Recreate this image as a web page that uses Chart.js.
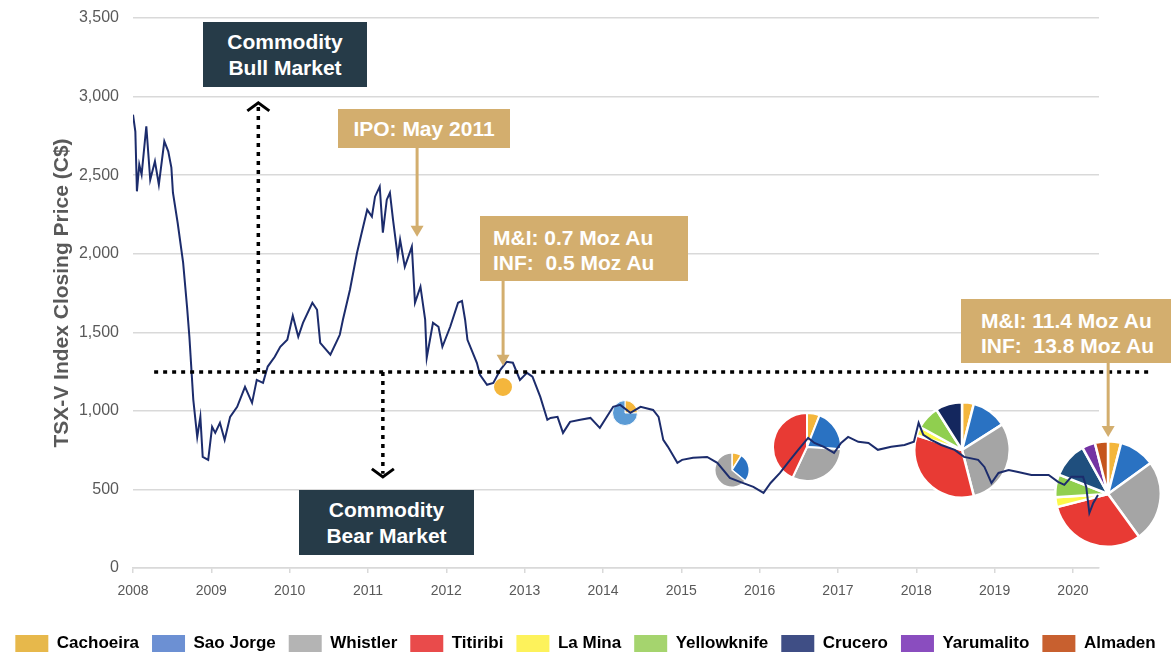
<!DOCTYPE html>
<html>
<head>
<meta charset="utf-8">
<script src="https://cdn.jsdelivr.net/npm/chart.js@4.4.1/dist/chart.umd.min.js"></script>
<style>
  html, body { margin: 0; padding: 0; background: #fff; }
  #wrap { position: relative; width: 1171px; height: 655px; overflow: hidden; font-family: 'Liberation Sans', Arial, sans-serif; }
  #main { position: absolute; left: 0; top: 0; }
  .box { position: absolute; color: #fff; font-weight: bold; font-size: 21px; line-height: 26px; box-sizing: border-box; white-space: nowrap; }
  .dark { background: #263b48; text-align: center; }
  .tan { background: #d3ae6e; line-height: 25px; }
  #pies { position: absolute; left: -5000px; top: 0; }
</style>
</head>
<body>
<div id="wrap">
  <canvas id="main" width="1171" height="655"></canvas>
  <div class="box dark" style="left:203px;top:22px;width:164px;height:65px;padding-top:7px">Commodity<br>Bull Market</div>
  <div class="box dark" style="left:299px;top:490px;width:175px;height:65px;padding-top:7px">Commodity<br>Bear Market</div>
  <div class="box tan" style="left:338px;top:109px;width:172px;height:39px;padding-top:7px;text-align:center">IPO: May 2011</div>
  <div class="box tan" style="left:480px;top:216px;width:208px;height:65px;padding:9px 0 0 13px">M&amp;I: 0.7 Moz Au<br>INF:&nbsp; 0.5 Moz Au</div>
  <div class="box tan" style="left:961px;top:299px;width:210px;height:64px;padding:9px 0 0 20px">M&amp;I: 11.4 Moz Au<br>INF:&nbsp; 13.8 Moz Au</div>
</div>
<div id="pies"></div>
<script>
// TSX-V closing level (decimal year / index)
const dates = [
  2008.00, 2008.03, 2008.05, 2008.08, 2008.11, 2008.17, 2008.22, 2008.28, 2008.33, 2008.40,
  2008.45, 2008.49, 2008.51, 2008.57, 2008.64, 2008.69, 2008.72, 2008.77, 2008.82, 2008.86,
  2008.89, 2008.96, 2009.01, 2009.05, 2009.11, 2009.17, 2009.24, 2009.33, 2009.43, 2009.52,
  2009.58, 2009.66, 2009.72, 2009.81, 2009.88, 2009.97, 2010.04, 2010.11, 2010.17, 2010.29,
  2010.35, 2010.39, 2010.52, 2010.61, 2010.64, 2010.68, 2010.77, 2010.86, 2010.92, 2010.99,
  2011.05, 2011.09, 2011.15, 2011.19, 2011.24, 2011.28, 2011.32, 2011.38, 2011.41, 2011.47,
  2011.56, 2011.60, 2011.67, 2011.73, 2011.75, 2011.83, 2011.90, 2011.95, 2012.05, 2012.15,
  2012.20, 2012.24, 2012.27, 2012.39, 2012.43, 2012.52, 2012.60, 2012.69, 2012.77, 2012.85,
  2012.94, 2013.03, 2013.10, 2013.20, 2013.29, 2013.33, 2013.42, 2013.49, 2013.58, 2013.71,
  2013.84, 2013.96, 2014.13, 2014.22, 2014.35, 2014.48, 2014.64, 2014.71, 2014.77, 2014.83,
  2014.95, 2015.01, 2015.15, 2015.33, 2015.46, 2015.62, 2015.75, 2015.92, 2016.05, 2016.14,
  2016.26, 2016.39, 2016.49, 2016.62, 2016.70, 2016.82, 2016.95, 2017.04, 2017.13, 2017.26,
  2017.39, 2017.51, 2017.68, 2017.85, 2017.97, 2018.03, 2018.09, 2018.19, 2018.32, 2018.49,
  2018.61, 2018.79, 2018.87, 2018.96, 2019.05, 2019.18, 2019.30, 2019.47, 2019.69, 2019.81,
  2019.89, 2019.98, 2020.13, 2020.17, 2020.21, 2020.26, 2020.32
];
const closes = [
  2885, 2777, 2397, 2567, 2503, 2811, 2471, 2588, 2439, 2715,
  2652, 2548, 2388, 2197, 1943, 1662, 1471, 1070, 834, 962,
  707, 688, 898, 860, 924, 815, 962, 1026, 1153, 1051,
  1197, 1178, 1282, 1344, 1408, 1452, 1605, 1471, 1560, 1688,
  1643, 1433, 1357, 1452, 1484, 1580, 1771, 2006, 2134, 2280,
  2236, 2363, 2427, 2134, 2344, 2388, 2216, 1981, 2089, 1917,
  2045, 1688, 1790, 1580, 1338, 1560, 1535, 1408, 1535, 1688,
  1700, 1580, 1452, 1306, 1229, 1166, 1178, 1261, 1312, 1306,
  1197, 1242, 1217, 1089, 943, 955, 962, 860, 930, 943,
  955, 892, 1026, 1038, 987, 1026, 1006, 962, 815, 771,
  669, 688, 701, 707, 669, 573, 548, 516, 478, 541,
  605, 688, 750, 828, 796, 771, 732, 796, 834, 803,
  796, 752, 771, 783, 803, 924, 847, 815, 783, 752,
  707, 688, 643, 541, 605, 624, 611, 592, 592, 548,
  529, 580, 580, 516, 350, 414, 465
];

const yearTicks = [2008, 2009, 2010, 2011, 2012, 2013, 2014, 2015, 2016, 2017, 2018, 2019, 2020];
const priceTicks = [0, 500, 1000, 1500, 2000, 2500, 3000, 3500];

const assets = ['Cachoeira', 'Sao Jorge', 'Whistler', 'Titiribi', 'La Mina', 'Yellowknife', 'Crucero', 'Yarumalito', 'Almaden'];

// portfolio snapshots sitting on the index line (share of ounces, %)
const pieDates = [2012.73, 2014.28, 2015.65, 2016.61, 2018.58, 2020.45];
const pieLevels = [1153, 987, 624, 771, 752, 471];
const pieShares = [
  [100, 0, 0, 0, 0, 0, 0, 0, 0],
  [25, 75, 0, 0, 0, 0, 0, 0, 0],
  [9, 27, 64, 0, 0, 0, 0, 0, 0],
  [6, 20, 31, 43, 0, 0, 0, 0, 0],
  [4, 12, 30, 34, 3, 8, 9, 0, 0],
  [4, 11, 25, 31, 3, 7, 11, 4, 4]
];

// styles
const legendColors = ['#e7b84b', '#6c90d3', '#b4b4b4', '#e94b4b', '#fdf25b', '#a5d46e', '#3f4e85', '#8a4dbf', '#c8602f'];
const pieColors = ['#f4b63c', '#2a72c2', '#a5a5a5', '#e83a34', '#fcf84a', '#90cf4f', '#14275e', '#7433a3', '#c5551c'];
const pieTint = { 1: { 1: '#5b9bd5' }, 5: { 6: '#1f4f7e' } };
const pieRadius = [8, 12, 17, 34, 48, 53];
const pieBorder = [0, 1, 1.5, 2, 2.5, 2.5];
const gold = '#d3ae6e';

Chart.defaults.font.family = "'Liberation Sans', Arial, sans-serif";

// render each pie with Chart.js off to the side, then stamp it under the line
const pieHost = document.getElementById('pies');
const pieImages = pieShares.map((shares, i) => {
    const size = 2 * pieRadius[i] + 2;
    const cv = document.createElement('canvas');
    cv.width = size;
    cv.height = size;
    pieHost.appendChild(cv);
    const keep = shares.map((v, j) => j).filter(j => shares[j] > 0);
    new Chart(cv, {
        type: 'pie',
        data: {
            labels: keep.map(j => assets[j]),
            datasets: [{
                data: keep.map(j => shares[j]),
                backgroundColor: keep.map(j => (pieTint[i] && pieTint[i][j]) || pieColors[j]),
                borderColor: '#ffffff',
                borderWidth: pieBorder[i]
            }]
        },
        options: {
            responsive: false,
            animation: false,
            events: [],
            layout: { padding: 0 },
            plugins: { legend: { display: false }, tooltip: { enabled: false } }
        }
    });
    return cv;
});

const piePlugin = {
    id: 'pieStamps',
    beforeDatasetsDraw(chart) {
        const { ctx, scales: { x, y } } = chart;
        pieImages.forEach((cv, i) => {
            const px = x.getPixelForValue(pieDates[i]);
            const py = y.getPixelForValue(pieLevels[i]);
            ctx.drawImage(cv, Math.round(px - cv.width / 2), Math.round(py - cv.height / 2));
        });
    }
};

// callout arrows: [date, from level, to level]
const callouts = [[2011.627, 2675, 2108], [2012.725, 1828, 1287], [2020.45, 1306, 834]];

const guidePlugin = {
    id: 'guides',
    afterDraw(chart) {
        const { ctx, scales: { x, y } } = chart;
        const X = v => x.getPixelForValue(v);
        const Y = v => y.getPixelForValue(v);
        const seg = (x1, y1, x2, y2) => { ctx.beginPath(); ctx.moveTo(x1, y1); ctx.lineTo(x2, y2); ctx.stroke(); };
        ctx.save();

        // bull / bear split
        ctx.strokeStyle = '#000';
        ctx.lineWidth = 3.5;
        ctx.setLineDash([4, 5]);
        seg(X(2008.27), Y(1248), X(2020.98), Y(1248));
        seg(X(2009.6), Y(1248), X(2009.6), Y(2935));
        seg(X(2011.19), Y(1248), X(2011.19), Y(600));
        ctx.setLineDash([]);
        ctx.lineWidth = 3;
        ctx.lineJoin = 'miter';
        let cx = X(2009.6), cy = Y(2960);
        ctx.beginPath(); ctx.moveTo(cx - 11, cy + 8); ctx.lineTo(cx, cy); ctx.lineTo(cx + 11, cy + 8); ctx.stroke();
        cx = X(2011.19); cy = Y(580);
        ctx.beginPath(); ctx.moveTo(cx - 11, cy - 8); ctx.lineTo(cx, cy); ctx.lineTo(cx + 11, cy - 8); ctx.stroke();

        // gold callout arrows
        ctx.strokeStyle = gold;
        ctx.fillStyle = gold;
        callouts.forEach(([d, from, to]) => {
            const ax = X(d), y0 = Y(from), y1 = Y(to);
            ctx.lineWidth = 3;
            seg(ax, y0, ax, y1 - 9);
            ctx.beginPath();
            ctx.moveTo(ax - 6.5, y1 - 11);
            ctx.lineTo(ax + 6.5, y1 - 11);
            ctx.lineTo(ax, y1);
            ctx.closePath();
            ctx.fill();
        });
        ctx.restore();
    }
};

new Chart(document.getElementById('main'), {
    type: 'line',
    data: {
        datasets: [{
            label: 'TSX-V',
            data: dates.map((d, i) => ({ x: d, y: closes[i] })),
            borderColor: '#1c2c6c',
            borderWidth: 2,
            pointRadius: 0,
            tension: 0
        }]
    },
    options: {
        responsive: false,
        animation: false,
        events: [],
        layout: { padding: { top: 18, left: 0, right: 0, bottom: -7 } },
        scales: {
            x: {
                type: 'linear',
                min: 2008,
                max: 2020.333,
                afterBuildTicks: s => { s.ticks = yearTicks.map(v => ({ value: v })); },
                afterFit: s => { s.height = 54; },
                grid: { drawOnChartArea: false, drawTicks: true, tickLength: 5, color: '#d9d9d9', lineWidth: 1.5 },
                border: { color: '#d9d9d9', width: 1.5 },
                ticks: { padding: 10, color: '#595959', font: { size: 14 }, maxRotation: 0, autoSkip: false, callback: v => String(v) }
            },
            y: {
                min: 0,
                max: 3500,
                afterBuildTicks: s => { s.ticks = priceTicks.map(v => ({ value: v })); },
                afterFit: s => { s.width = 133; s.paddingTop = 0; s.paddingBottom = 0; },
                grid: { color: '#d9d9d9', lineWidth: 1.5, drawTicks: false },
                border: { display: false },
                ticks: { padding: 14, color: '#595959', font: { size: 16 }, callback: v => v.toLocaleString('en-US') },
                title: {
                    display: true,
                    text: 'TSX-V Index Closing Price (C$)',
                    color: '#595959',
                    font: { size: 21, weight: 'bold' },
                    padding: { top: 50, bottom: 0 }
                }
            },
            gutter: {
                position: 'right',
                display: true,
                afterFit: s => { s.width = 72; s.paddingTop = 0; s.paddingBottom = 0; },
                grid: { display: false },
                ticks: { display: false },
                border: { display: false }
            }
        },
        plugins: {
            tooltip: { enabled: false },
            legend: {
                position: 'bottom',
                labels: {
                    boxWidth: 33,
                    boxHeight: 17,
                    padding: 13,
                    color: '#595959',
                    font: { size: 17, weight: 'bold' },
                    generateLabels: () => assets.map((name, i) => ({
                        text: name,
                        fillStyle: legendColors[i],
                        strokeStyle: legendColors[i],
                        lineWidth: 0,
                        hidden: false,
                        datasetIndex: 0,
                        index: i
                    }))
                }
            }
        }
    },
    plugins: [piePlugin, guidePlugin]
});
</script>
</body>
</html>
